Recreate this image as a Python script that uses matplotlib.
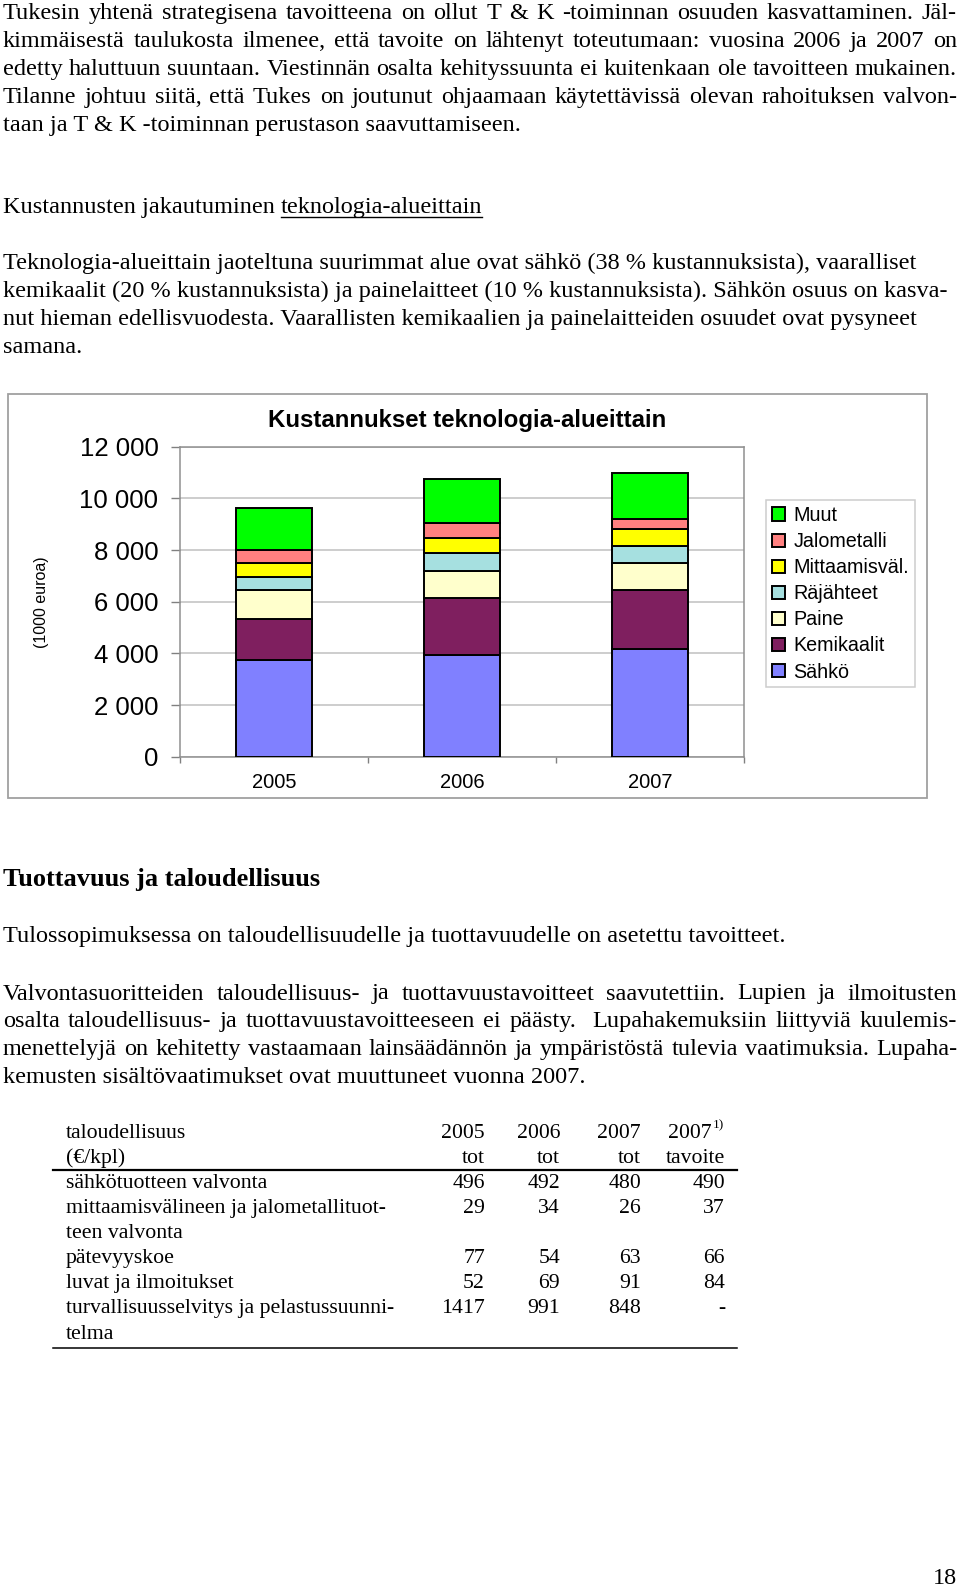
import matplotlib.pyplot as plt
import numpy as np
from matplotlib.patches import Rectangle
from matplotlib.lines import Line2D

# ── Chart data (1000 euroa) ──────────────────────────────────────────────────
years = ["2005", "2006", "2007"]
areas = ["Sähkö", "Kemikaalit", "Paine", "Räjähteet", "Mittaamisväl.", "Jalometalli", "Muut"]
sahko = [3740, 3935, 4155]
kemikaalit = [1575, 2195, 2285]
paine = [1125, 1060, 1060]
rajahteet = [500, 685, 655]
mittaamis = [555, 580, 645]
jalometalli = [505, 605, 415]
muut = [1640, 1675, 1780]
area_colors = ["#8080ff", "#7f1f5f", "#ffffcc", "#a6e0e0", "#ffff00", "#ff8080", "#00ff00"]
yticks = [0, 2000, 4000, 6000, 8000, 10000, 12000]

# ── Table data ───────────────────────────────────────────────────────────────
tab_head1 = ["2005", "2006", "2007", "2007"]
tab_head2 = ["tot", "tot", "tot", "tavoite"]
tab_rows = [
    ["sähkötuotteen valvonta"],
    ["mittaamisvälineen ja jalometallituot-", "teen valvonta"],
    ["pätevyyskoe"],
    ["luvat ja ilmoitukset"],
    ["turvallisuusselvitys ja pelastussuunni-", "telma"],
]
tab_vals = [
    ["496", "492", "480", "490"],
    ["29", "34", "26", "37"],
    ["77", "54", "63", "66"],
    ["52", "69", "91", "84"],
    ["1417", "991", "848", "-"],
]

# ── Page text ────────────────────────────────────────────────────────────────
para1 = [
    "Tukesin yhtenä strategisena tavoitteena on ollut T & K -toiminnan osuuden kasvattaminen. Jäl-",
    "kimmäisestä taulukosta ilmenee, että tavoite on lähtenyt toteutumaan: vuosina 2006 ja 2007 on",
    "edetty haluttuun suuntaan. Viestinnän osalta kehityssuunta ei kuitenkaan ole tavoitteen mukainen.",
    "Tilanne johtuu siitä, että Tukes on joutunut ohjaamaan käytettävissä olevan rahoituksen valvon-",
    "taan ja T & K -toiminnan perustason saavuttamiseen.",
]
para2 = [
    "Teknologia-alueittain jaoteltuna suurimmat alue ovat sähkö (38 % kustannuksista), vaaralliset",
    "kemikaalit (20 % kustannuksista) ja painelaitteet (10 % kustannuksista). Sähkön osuus on kasva-",
    "nut hieman edellisvuodesta. Vaarallisten kemikaalien ja painelaitteiden osuudet ovat pysyneet",
    "samana.",
]
para3 = [
    "Valvontasuoritteiden taloudellisuus- ja tuottavuustavoitteet saavutettiin. Lupien ja ilmoitusten",
    "osalta taloudellisuus- ja tuottavuustavoitteeseen ei päästy.  Lupahakemuksiin liittyviä kuulemis-",
    "menettelyjä on kehitetty vastaamaan lainsäädännön ja ympäristöstä tulevia vaatimuksia. Lupaha-",
    "kemusten sisältövaatimukset ovat muuttuneet vuonna 2007.",
]

W, H = 960, 1589
SERIF = "Liberation Serif"
SANS = "Liberation Sans"
BODY = 17.45
LEFT, RIGHT = 3, 957

fig = plt.figure(figsize=(W / 100, H / 100), dpi=100)
renderer = fig.canvas.get_renderer()


def fx(x):
    return x / W


def fy(y):
    return 1 - y / H


def put(x, y, s, size=BODY, ha="left", weight="normal", family=SERIF):
    return fig.text(fx(x), fy(y), s, ha=ha, va="baseline", fontsize=size,
                    fontweight=weight, family=family)


def justified(y, s, size=BODY):
    # spread words so the line fills LEFT..RIGHT
    words = s.split(" ")
    arts = [put(0, y, w, size=size) for w in words]
    widths = [a.get_window_extent(renderer).width for a in arts]
    gap = (RIGHT - LEFT - sum(widths)) / (len(words) - 1)
    x = LEFT
    for a, w in zip(arts, widths):
        a.set_x(fx(x))
        x += w + gap


for i, line in enumerate(para1):
    y = 18.7 + i * 28.1
    if i < len(para1) - 1:
        justified(y, line)
    else:
        put(LEFT, y, line)

t1 = put(LEFT, 213, "Kustannusten jakautuminen ")
x_ul = LEFT + t1.get_window_extent(renderer).width
t2 = put(x_ul, 213, "teknologia-alueittain")
w_ul = t2.get_window_extent(renderer).width
fig.add_artist(Line2D([fx(x_ul), fx(x_ul + w_ul)], [fy(216.5), fy(216.5)],
                      color="black", lw=1.0))

for i, line in enumerate(para2):
    put(LEFT, 269.5 + i * 27.8, line)

# ── Chart ────────────────────────────────────────────────────────────────────
fig.add_artist(Rectangle((fx(8), fy(798)), fx(919), (798 - 394) / H,
                         transform=fig.transFigure, fill=False,
                         edgecolor="#a0a0a0", lw=1.3))

ax = fig.add_axes([fx(180), fy(756.7), fx(564), 310 / H])
series = [sahko, kemikaalit, paine, rajahteet, mittaamis, jalometalli, muut]
xpos = np.arange(len(years))
bottom = np.zeros(len(years))
handles = []
for vals, name, col in zip(series, areas, area_colors):
    b = ax.bar(xpos, vals, 0.4, bottom=bottom, color=col, edgecolor="black",
               linewidth=1.4, label=name, zorder=3)
    handles.append(b)
    bottom += np.array(vals)

ax.set_xlim(-0.5, 2.5)
ax.set_ylim(0, 12000)
ax.set_yticks(yticks)
ax.set_yticklabels([f"{v:,}".replace(",", " ") for v in yticks],
                   fontsize=18.5, family=SANS)
ax.set_xticks(xpos)
ax.set_xticklabels(years, fontsize=14.5, family=SANS)
ax.set_xticks([-0.5, 0.5, 1.5, 2.5], minor=True)
ax.tick_params(axis="x", which="major", length=0, pad=12)
ax.tick_params(axis="x", which="minor", length=4, color="#808080", width=1)
ax.tick_params(axis="y", length=6.5, color="#808080", width=1, pad=9)
ax.yaxis.grid(True, color="#c0c0c0", lw=1.1, zorder=0)
for sp in ax.spines.values():
    sp.set_color("#909090")
    sp.set_linewidth(1.1)
ax.set_ylabel("(1000 euroa)", fontsize=11.5, family=SANS, labelpad=0)
ax.yaxis.set_label_coords(fx(49 - 180) / fx(564), 0.5)

fig.text(fx(467), fy(421), "Kustannukset teknologia-alueittain", ha="center",
         va="center", fontsize=17.3, fontweight="bold", family=SANS)

leg = fig.legend(handles[::-1], areas[::-1], loc="upper left",
                 bbox_to_anchor=(fx(766), fy(500)), frameon=True, fancybox=False,
                 edgecolor="#c0c0c0", prop={"family": SANS, "size": 14.2},
                 handlelength=0.65, handleheight=0.65, handletextpad=0.45,
                 labelspacing=0.36, borderpad=0.3, borderaxespad=0)
leg.get_frame().set_linewidth(1.1)

# ── Tuottavuus ───────────────────────────────────────────────────────────────
put(LEFT, 886, "Tuottavuus ja taloudellisuus", size=19, weight="bold")
put(LEFT, 942, "Tulossopimuksessa on taloudellisuudelle ja tuottavuudelle on asetettu tavoitteet.")
for i, line in enumerate(para3):
    y = 999.5 + i * 27.8
    if i < len(para3) - 1:
        justified(y, line)
    else:
        put(LEFT, y, line)

# ── Table ────────────────────────────────────────────────────────────────────
TAB = 15.7
col_right = [485, 560, 641, 712]
put(66, 1138, "taloudellisuus", size=TAB)
put(66, 1163, "(€/kpl)", size=TAB)
for xr, h1, h2 in zip(col_right, tab_head1, tab_head2):
    put(xr, 1138, h1, size=TAB, ha="right")
    put(725 if h2 == "tavoite" else xr, 1163, h2, size=TAB, ha="right")
put(713, 1128, "1)", size=9.5)
fig.add_artist(Line2D([fx(53), fx(737)], [fy(1170), fy(1170)], color="black", lw=1.6))

row_y = 1188
for labels, vals in zip(tab_rows, tab_vals):
    put(66, row_y, labels[0], size=TAB)
    for xr, v in zip(col_right[:3] + [725], vals):
        put(xr, row_y, v, size=TAB, ha="right")
    row_y += 25.1
    for extra in labels[1:]:
        put(66, row_y, extra, size=TAB)
        row_y += 25.1
fig.add_artist(Line2D([fx(53), fx(737)], [fy(1348), fy(1348)], color="black", lw=1.1))

put(957, 1584, "18", size=BODY, ha="right")

fig.savefig("out.png", dpi=100)
